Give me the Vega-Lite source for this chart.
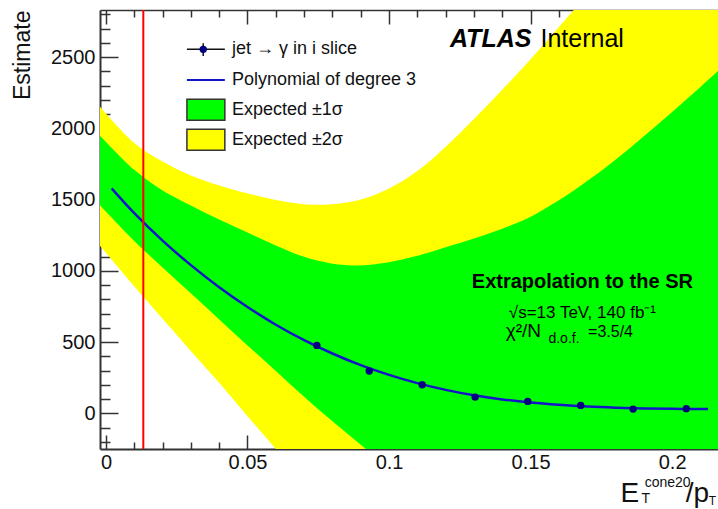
{
  "$schema": "https://vega.github.io/schema/vega-lite/v6.json",
  "width": 618,
  "height": 439,
  "autosize": {"type": "none"},
  "padding": {"left": 100, "top": 10, "right": 0, "bottom": 60},
  "background": "white",
  "config": {
    "font": "Liberation Sans",
    "view": {"stroke": null},
    "axis": {"grid": false, "zindex": 1, "domainColor": "#333333", "tickColor": "#333333", "labelColor": "#111111", "labelFont": "Liberation Sans", "titleFont": "Liberation Sans"}
  },
  "datasets": {
    "bands": [
      {"x": -0.0025, "lo2": 1185, "lo1": 1469, "hi1": 1957, "hi2": 2160},
      {"x": 0.01, "lo2": 891, "lo1": 1210, "hi1": 1709, "hi2": 1897},
      {"x": 0.02, "lo2": 663, "lo1": 1024, "hi1": 1564, "hi2": 1767},
      {"x": 0.03, "lo2": 438, "lo1": 842, "hi1": 1459, "hi2": 1669},
      {"x": 0.04, "lo2": 214, "lo1": 659, "hi1": 1360, "hi2": 1599},
      {"x": 0.05, "lo2": -20, "lo1": 477, "hi1": 1269, "hi2": 1543},
      {"x": 0.06, "lo2": -250, "lo1": 298, "hi1": 1178, "hi2": 1497},
      {"x": 0.07, "lo2": -480, "lo1": 116, "hi1": 1098, "hi2": 1468},
      {"x": 0.08, "lo2": -710, "lo1": -56, "hi1": 1050, "hi2": 1468},
      {"x": 0.09, "lo2": -940, "lo1": -221, "hi1": 1038, "hi2": 1500},
      {"x": 0.10, "lo2": -1170, "lo1": -379, "hi1": 1060, "hi2": 1578},
      {"x": 0.11, "lo2": -1400, "lo1": -533, "hi1": 1105, "hi2": 1700},
      {"x": 0.12, "lo2": -1630, "lo1": -680, "hi1": 1165, "hi2": 1870},
      {"x": 0.13, "lo2": -1860, "lo1": -830, "hi1": 1227, "hi2": 2065},
      {"x": 0.14, "lo2": -2090, "lo1": -980, "hi1": 1295, "hi2": 2270},
      {"x": 0.15, "lo2": -2320, "lo1": -1130, "hi1": 1380, "hi2": 2485},
      {"x": 0.16, "lo2": -2550, "lo1": -1280, "hi1": 1495, "hi2": 2710},
      {"x": 0.17, "lo2": -2780, "lo1": -1430, "hi1": 1630, "hi2": 2940},
      {"x": 0.18, "lo2": -3010, "lo1": -1580, "hi1": 1780, "hi2": 3180},
      {"x": 0.19, "lo2": -3240, "lo1": -1730, "hi1": 1945, "hi2": 3430},
      {"x": 0.20, "lo2": -3470, "lo1": -1880, "hi1": 2115, "hi2": 3690},
      {"x": 0.21, "lo2": -3700, "lo1": -2030, "hi1": 2290, "hi2": 3960},
      {"x": 0.22, "lo2": -3930, "lo1": -2180, "hi1": 2470, "hi2": 4240}
    ],
    "fit": [
      {"x": 0.002, "y": 1579}, {"x": 0.01, "y": 1405}, {"x": 0.02, "y": 1212},
      {"x": 0.03, "y": 1040}, {"x": 0.04, "y": 885}, {"x": 0.05, "y": 746},
      {"x": 0.06, "y": 622}, {"x": 0.07, "y": 514}, {"x": 0.08, "y": 420},
      {"x": 0.09, "y": 338}, {"x": 0.10, "y": 270}, {"x": 0.11, "y": 212},
      {"x": 0.12, "y": 165}, {"x": 0.13, "y": 127}, {"x": 0.14, "y": 98},
      {"x": 0.15, "y": 76}, {"x": 0.16, "y": 60}, {"x": 0.17, "y": 48},
      {"x": 0.18, "y": 40}, {"x": 0.19, "y": 35}, {"x": 0.20, "y": 32},
      {"x": 0.21, "y": 31}, {"x": 0.2127, "y": 31}
    ],
    "pts": [
      {"x": 0.0745, "y": 477}, {"x": 0.093, "y": 297}, {"x": 0.1117, "y": 201},
      {"x": 0.1304, "y": 114}, {"x": 0.149, "y": 84}, {"x": 0.1677, "y": 56},
      {"x": 0.1862, "y": 30}, {"x": 0.205, "y": 33}
    ],
    "one": [{}]
  },
  "resolve": {"axis": {"x": "independent", "y": "independent"}},
  "layer": [
    {
      "data": {"name": "bands"},
      "mark": {"type": "area", "color": "#ffff00", "clip": true, "interpolate": "catmull-rom"},
      "encoding": {
        "x": {"field": "x", "type": "quantitative",
          "scale": {"domain": [-0.0021, 0.2162], "nice": false, "zero": false},
          "axis": {"orient": "bottom", "title": null,
            "values": [0,0.01,0.02,0.03,0.04,0.05,0.06,0.07,0.08,0.09,0.1,0.11,0.12,0.13,0.14,0.15,0.16,0.17,0.18,0.19,0.2,0.21],
            "domainWidth": 2, "tickWidth": 1.5,
            "tickSize": {"condition": {"test": "round(datum.value*100) % 5 === 0", "value": -14}, "value": -7},
            "labelExpr": "round(datum.value*100) % 5 === 0 ? format(datum.value, '~g') : ''",
            "labelPadding": 17, "labelFlush": false, "labelBaseline": "top", "labelFontSize": 20, "labelOverlap": false}},
        "y": {"field": "lo2", "type": "quantitative",
          "scale": {"domain": [-250, 2830], "nice": false, "zero": false},
          "axis": {"orient": "left", "title": "Estimate", "titleFontSize": 23, "titleFontWeight": "normal", "titleColor": "#111111",
            "titleAngle": -90, "titleAlign": "right", "titleBaseline": "middle", "titleX": -78, "titleY": 0,
            "values": [-200,-100,0,100,200,300,400,500,600,700,800,900,1000,1100,1200,1300,1400,1500,1600,1700,1800,1900,2000,2100,2200,2300,2400,2500,2600,2700,2800],
            "domainWidth": 2, "tickWidth": 1.5,
            "tickSize": {"condition": {"test": "datum.value % 500 === 0", "value": -18}, "value": -10},
            "labelExpr": "datum.value % 500 === 0 ? format(datum.value, 'd') : ''",
            "labelPadding": 23, "labelFontSize": 20, "labelOverlap": false}},
        "y2": {"field": "hi2"}
      }
    },
    {
      "data": {"name": "bands"},
      "mark": {"type": "area", "color": "#00ff00", "clip": true, "interpolate": "catmull-rom"},
      "encoding": {
        "x": {"field": "x", "type": "quantitative",
          "axis": {"orient": "top", "title": null, "labels": false,
            "values": [0,0.01,0.02,0.03,0.04,0.05,0.06,0.07,0.08,0.09,0.1,0.11,0.12,0.13,0.14,0.15,0.16,0.17,0.18,0.19,0.2,0.21],
            "domainWidth": 1.5, "tickWidth": 1.5,
            "tickSize": {"condition": {"test": "round(datum.value*100) % 5 === 0", "value": -14}, "value": -7}}},
        "y": {"field": "lo1", "type": "quantitative", "axis": null},
        "y2": {"field": "hi1"}
      }
    },
    {
      "data": {"name": "fit"},
      "mark": {"type": "line", "color": "#1515c8", "strokeWidth": 2.5, "clip": true, "interpolate": "catmull-rom"},
      "encoding": {
        "x": {"field": "x", "type": "quantitative", "axis": null},
        "y": {"field": "y", "type": "quantitative", "axis": null}
      }
    },
    {
      "data": {"name": "pts"},
      "mark": {"type": "circle", "color": "#000080", "size": 55, "opacity": 1},
      "encoding": {
        "x": {"field": "x", "type": "quantitative", "axis": null},
        "y": {"field": "y", "type": "quantitative", "axis": null}
      }
    },
    {
      "data": {"name": "one"},
      "mark": {"type": "rule", "color": "#ff0000", "strokeWidth": 2},
      "encoding": {"x": {"datum": 0.0132, "type": "quantitative", "axis": null}}
    },
    {
      "data": {"name": "one"},
      "mark": {"type": "rule", "color": "#111111", "strokeWidth": 1.5},
      "encoding": {
        "x": {"datum": 0.0286, "type": "quantitative", "axis": null},
        "x2": {"datum": 0.042},
        "y": {"datum": 2554, "type": "quantitative", "axis": null}
      }
    },
    {
      "data": {"name": "one"},
      "mark": {"type": "rule", "color": "#111111", "strokeWidth": 1.5},
      "encoding": {
        "x": {"datum": 0.03436, "type": "quantitative", "axis": null},
        "y": {"datum": 2597, "type": "quantitative", "axis": null},
        "y2": {"datum": 2508}
      }
    },
    {
      "data": {"name": "one"},
      "mark": {"type": "circle", "color": "#000080", "size": 55, "opacity": 1},
      "encoding": {
        "x": {"datum": 0.03436, "type": "quantitative", "axis": null},
        "y": {"datum": 2554, "type": "quantitative", "axis": null}
      }
    },
    {
      "data": {"name": "one"},
      "mark": {"type": "rule", "color": "#1515c8", "strokeWidth": 2},
      "encoding": {
        "x": {"datum": 0.0286, "type": "quantitative", "axis": null},
        "x2": {"datum": 0.042},
        "y": {"datum": 2339, "type": "quantitative", "axis": null}
      }
    },
    {
      "data": {"name": "one"},
      "mark": {"type": "rect", "color": "#00ff00", "stroke": "#333333", "strokeWidth": 1.5},
      "encoding": {
        "x": {"datum": 0.0286, "type": "quantitative", "axis": null},
        "x2": {"datum": 0.042},
        "y": {"datum": 2204, "type": "quantitative", "axis": null},
        "y2": {"datum": 2056}
      }
    },
    {
      "data": {"name": "one"},
      "mark": {"type": "rect", "color": "#ffff00", "stroke": "#333333", "strokeWidth": 1.5},
      "encoding": {
        "x": {"datum": 0.0286, "type": "quantitative", "axis": null},
        "x2": {"datum": 0.042},
        "y": {"datum": 1993, "type": "quantitative", "axis": null},
        "y2": {"datum": 1846}
      }
    },
    {
      "data": {"name": "one"},
      "mark": {"type": "text", "text": "jet → γ in i slice", "fontSize": 18, "align": "left", "baseline": "middle", "color": "#111111"},
      "encoding": {
        "x": {"datum": 0.0445, "type": "quantitative", "axis": null},
        "y": {"datum": 2554, "type": "quantitative", "axis": null}
      }
    },
    {
      "data": {"name": "one"},
      "mark": {"type": "text", "text": "Polynomial of degree 3", "fontSize": 18, "align": "left", "baseline": "middle", "color": "#111111"},
      "encoding": {
        "x": {"datum": 0.0445, "type": "quantitative", "axis": null},
        "y": {"datum": 2339, "type": "quantitative", "axis": null}
      }
    },
    {
      "data": {"name": "one"},
      "mark": {"type": "text", "text": "Expected ±1σ", "fontSize": 18, "align": "left", "baseline": "middle", "color": "#111111"},
      "encoding": {
        "x": {"datum": 0.0445, "type": "quantitative", "axis": null},
        "y": {"datum": 2128, "type": "quantitative", "axis": null}
      }
    },
    {
      "data": {"name": "one"},
      "mark": {"type": "text", "text": "Expected ±2σ", "fontSize": 18, "align": "left", "baseline": "middle", "color": "#111111"},
      "encoding": {
        "x": {"datum": 0.0445, "type": "quantitative", "axis": null},
        "y": {"datum": 1918, "type": "quantitative", "axis": null}
      }
    },
    {
      "data": {"name": "one"},
      "mark": {"type": "text", "text": "ATLAS", "fontSize": 25, "fontWeight": "bold", "fontStyle": "italic", "align": "left", "baseline": "alphabetic", "color": "#000000"},
      "encoding": {
        "x": {"datum": 0.1215, "type": "quantitative", "axis": null},
        "y": {"datum": 2570, "type": "quantitative", "axis": null}
      }
    },
    {
      "data": {"name": "one"},
      "mark": {"type": "text", "text": "Internal", "fontSize": 25, "align": "left", "baseline": "alphabetic", "color": "#000000"},
      "encoding": {
        "x": {"datum": 0.1535, "type": "quantitative", "axis": null},
        "y": {"datum": 2570, "type": "quantitative", "axis": null}
      }
    },
    {
      "data": {"name": "one"},
      "mark": {"type": "text", "text": "Extrapolation to the SR", "fontSize": 20, "fontWeight": "bold", "align": "center", "baseline": "alphabetic", "color": "#000000"},
      "encoding": {
        "x": {"datum": 0.1683, "type": "quantitative", "axis": null},
        "y": {"datum": 880, "type": "quantitative", "axis": null}
      }
    },
    {
      "data": {"name": "one"},
      "mark": {"type": "text", "text": "√s=13 TeV, 140 fb⁻¹", "fontSize": 17, "align": "center", "baseline": "alphabetic", "color": "#000000"},
      "encoding": {
        "x": {"datum": 0.1683, "type": "quantitative", "axis": null},
        "y": {"datum": 669, "type": "quantitative", "axis": null}
      }
    },
    {
      "data": {"name": "one"},
      "mark": {"type": "text", "text": "χ²/N", "fontSize": 19, "align": "left", "baseline": "alphabetic", "color": "#000000"},
      "encoding": {
        "x": {"datum": 0.1412, "type": "quantitative", "axis": null},
        "y": {"datum": 534, "type": "quantitative", "axis": null}
      }
    },
    {
      "data": {"name": "one"},
      "mark": {"type": "text", "text": "d.o.f.", "fontSize": 14, "align": "left", "baseline": "alphabetic", "color": "#000000"},
      "encoding": {
        "x": {"datum": 0.1563, "type": "quantitative", "axis": null},
        "y": {"datum": 492, "type": "quantitative", "axis": null}
      }
    },
    {
      "data": {"name": "one"},
      "mark": {"type": "text", "text": "=3.5/4", "fontSize": 16, "align": "left", "baseline": "alphabetic", "color": "#000000"},
      "encoding": {
        "x": {"datum": 0.1703, "type": "quantitative", "axis": null},
        "y": {"datum": 534, "type": "quantitative", "axis": null}
      }
    },
    {
      "data": {"name": "one"},
      "mark": {"type": "text", "text": "E", "fontSize": 28, "align": "left", "baseline": "alphabetic", "color": "#111111"},
      "encoding": {
        "x": {"datum": 0.1818, "type": "quantitative", "axis": null},
        "y": {"datum": -622, "type": "quantitative", "axis": null}
      }
    },
    {
      "data": {"name": "one"},
      "mark": {"type": "text", "text": "T", "fontSize": 14, "align": "left", "baseline": "alphabetic", "color": "#111111"},
      "encoding": {
        "x": {"datum": 0.1892, "type": "quantitative", "axis": null},
        "y": {"datum": -629, "type": "quantitative", "axis": null}
      }
    },
    {
      "data": {"name": "one"},
      "mark": {"type": "text", "text": "cone20", "fontSize": 14, "align": "left", "baseline": "alphabetic", "color": "#111111"},
      "encoding": {
        "x": {"datum": 0.1903, "type": "quantitative", "axis": null},
        "y": {"datum": -516, "type": "quantitative", "axis": null}
      }
    },
    {
      "data": {"name": "one"},
      "mark": {"type": "text", "text": "/p", "fontSize": 28, "align": "left", "baseline": "alphabetic", "color": "#111111"},
      "encoding": {
        "x": {"datum": 0.2048, "type": "quantitative", "axis": null},
        "y": {"datum": -622, "type": "quantitative", "axis": null}
      }
    },
    {
      "data": {"name": "one"},
      "mark": {"type": "text", "text": "T", "fontSize": 12, "align": "left", "baseline": "alphabetic", "color": "#111111"},
      "encoding": {
        "x": {"datum": 0.2129, "type": "quantitative", "axis": null},
        "y": {"datum": -643, "type": "quantitative", "axis": null}
      }
    }
  ]
}
